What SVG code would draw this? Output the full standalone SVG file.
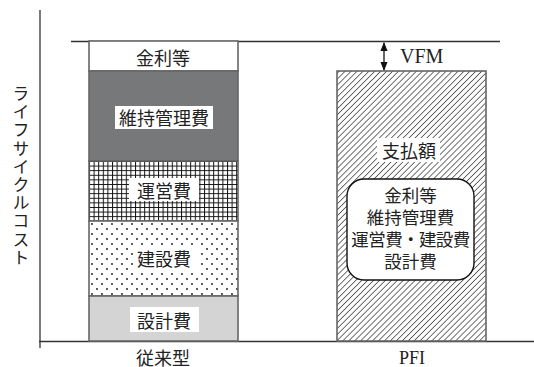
<svg xmlns="http://www.w3.org/2000/svg" width="534" height="367" viewBox="0 0 534 367">
  <style>
    .jp { font-family: "Noto Sans CJK JP", "Noto Sans", sans-serif; font-size: 18px; fill: #222; text-anchor: middle; dominant-baseline: central; }
    .jp2 { font-family: "Noto Sans CJK JP", "Noto Sans", sans-serif; font-size: 17.5px; fill: #222; text-anchor: middle; }
    .lat { font-family: "Liberation Serif", serif; fill: #222; }
    .axis { stroke: #333; stroke-width: 1.3; fill: none; }
    .bar { stroke: #666; stroke-width: 1.6; }
    .bg { fill: #fff; }
  </style>
  <defs>
    <pattern id="grid" width="4.6" height="4.6" patternUnits="userSpaceOnUse" x="89" y="161">
      <rect width="4.6" height="4.6" fill="#fff"/>
      <path d="M0 0.5H4.6M0.5 0V4.6" stroke="#111" stroke-width="1"/>
    </pattern>
    <pattern id="dots" width="10" height="10" patternUnits="userSpaceOnUse" x="89" y="221">
      <rect width="10" height="10" fill="#fff"/>
      <circle cx="3" cy="3" r="0.9" fill="#111"/>
      <circle cx="8" cy="8" r="0.9" fill="#111"/>
    </pattern>
    <pattern id="hatch" width="4.2" height="4.2" patternUnits="userSpaceOnUse" patternTransform="rotate(45)">
      <rect width="4.2" height="4.2" fill="#fff"/>
      <line x1="0" y1="0" x2="0" y2="4.2" stroke="#111" stroke-width="1.2"/>
    </pattern>
    <marker id="ah" viewBox="0 0 10 10" refX="9" refY="5" markerWidth="7" markerHeight="7" orient="auto-start-reverse">
      <path d="M0 1L10 5L0 9z" fill="#111"/>
    </marker>
  </defs>

  <g id="connectors">
    <line class="axis" x1="40" y1="10" x2="40" y2="348"/>
    <line class="axis" x1="39" y1="341.5" x2="534" y2="341.5"/>
    <line class="axis" x1="71" y1="41.5" x2="500" y2="41.5"/>
    <line x1="384" y1="43" x2="384" y2="70" stroke="#111" stroke-width="1.3" marker-start="url(#ah)" marker-end="url(#ah)"/>
  </g>

  <g id="ylabel">
    <text x="21" y="85" style="font-family: 'Noto Sans CJK JP', sans-serif; font-size: 17px; fill: #222; writing-mode: vertical-rl; letter-spacing: 1.2px;">ライフサイクルコスト</text>
  </g>

  <g id="kinri">
    <rect class="bar" x="89" y="41" width="149" height="30" fill="#fff"/>
    <text class="jp" x="163" y="57">金利等</text>
  </g>
  <g id="iji">
    <rect class="bar" x="89" y="71" width="149" height="90" fill="#77787a"/>
    <rect class="bg" x="115" y="106" width="98" height="23"/>
    <text class="jp" x="164" y="117">維持管理費</text>
  </g>
  <g id="unei">
    <rect class="bar" x="89" y="161" width="149" height="60" fill="url(#grid)"/>
    <rect class="bg" x="129" y="178" width="70" height="23"/>
    <text class="jp" x="164" y="190">運営費</text>
  </g>
  <g id="kensetsu">
    <rect class="bar" x="89" y="221" width="149" height="75" fill="url(#dots)"/>
    <rect class="bg" x="133" y="246" width="66" height="24"/>
    <text class="jp" x="164" y="258">建設費</text>
  </g>
  <g id="sekkei">
    <rect class="bar" x="89" y="296" width="149" height="45" fill="#d4d4d4"/>
    <rect class="bg" x="130" y="307" width="69" height="25"/>
    <text class="jp" x="164" y="320">設計費</text>
  </g>
  <g id="pfi">
    <rect class="bar" x="337" y="71" width="149" height="270" fill="url(#hatch)"/>
    <rect class="bg" x="377" y="138" width="63" height="24"/>
    <text class="jp" x="409" y="150">支払額</text>
  </g>
  <g id="pfi-breakdown">
    <rect x="347" y="179" width="127" height="101" rx="17" ry="17" fill="#fff" stroke="#111" stroke-width="1.4"/>
    <text class="jp2" x="410.5" y="202">金利等<tspan x="410.5" dy="22">維持管理費</tspan><tspan x="410.5" dy="22" style="letter-spacing:-0.6px">運営費・建設費</tspan><tspan x="410.5" dy="22">設計費</tspan></text>
  </g>

  <g id="labels">
    <text class="lat" x="400" y="63" font-size="20">VFM</text>
    <text class="jp" x="163" y="357">従来型</text>
    <text class="lat" x="412" y="364" font-size="18" text-anchor="middle">PFI</text>
  </g>
</svg>
